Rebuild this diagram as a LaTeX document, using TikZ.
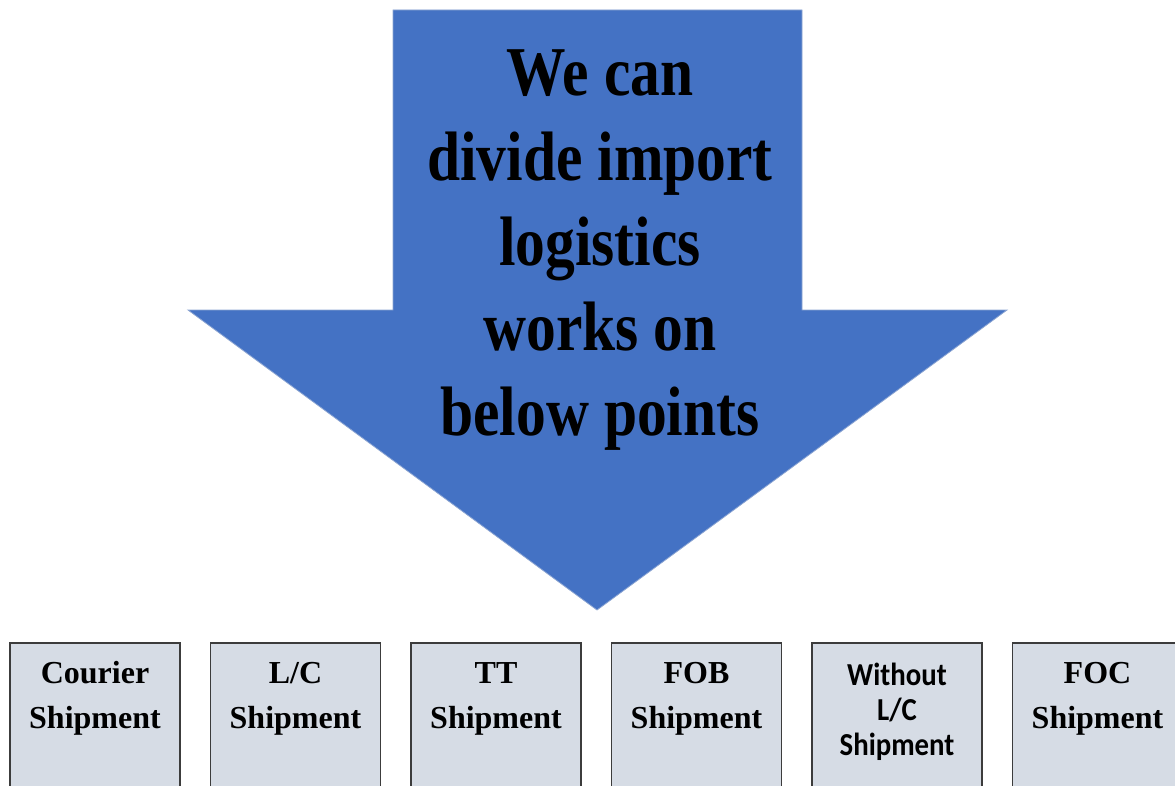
\documentclass[tikz,border=0pt]{standalone}
\usepackage{fontspec}
\setmainfont{Liberation Serif}
\newfontfamily\narrowserif[FakeStretch=0.85]{Liberation Serif}
\newfontfamily\calib[FakeStretch=0.9]{Carlito}
\usepackage{tikz}
\usetikzlibrary{positioning}

\definecolor{arrowblue}{RGB}{68,114,196}
\definecolor{arrowedge}{RGB}{140,165,210}
\definecolor{boxfill}{RGB}{214,220,229}
\definecolor{boxedge}{RGB}{60,60,60}

\tikzset{
    shipbox/.style={draw=boxedge, line width=1.5pt, fill=boxfill, minimum width=170pt, minimum height=170pt, inner sep=0pt, anchor=north},
    shiptext/.style={align=center, inner sep=0pt, anchor=base, font=\fontsize{32}{45}\selectfont\bfseries},
    calibtext/.style={align=center, inner sep=0pt, anchor=base, font=\calib\fontsize{32}{35}\selectfont\bfseries},
}

\begin{document}
\begin{tikzpicture}[x=1pt, y=-1pt, node distance=29pt]
        \useasboundingbox (0,0) rectangle (1175,786);

        % big arrow
        \draw[fill=arrowblue, draw=arrowedge, line width=0.8pt]
            (393,10) -- (802,10) -- (802,310) -- (1007,310) -- (597,610)
            -- (188,310) -- (393,310) -- cycle;
        % base sits on the last line
        \node[align=center, inner sep=0pt, anchor=base,
              font=\narrowserif\fontsize{70}{85}\selectfont\bfseries] (msg) at (600,435)
            {We can\\divide import\\logistics\\works on\\below points};

        % shipment boxes
        \node[shipbox]                    (courier) at (95,642) {};
        \node[shipbox, right=of courier]  (lc)      {};
        \node[shipbox, right=of lc]       (tt)      {};
        \node[shipbox, right=of tt]       (fob)     {};
        \node[shipbox, right=of fob]      (nolc)    {};
        \node[shipbox, right=of nolc]     (foc)     {};

        \node[shiptext]  (courierlbl) at ([yshift=-86pt]courier.north) {Courier\\Shipment};
        \node[shiptext]  (lclbl)      at ([yshift=-86pt]lc.north)      {L/C\\Shipment};
        \node[shiptext]  (ttlbl)      at ([yshift=-86pt]tt.north)      {TT\\Shipment};
        \node[shiptext]  (foblbl)     at ([yshift=-86pt]fob.north)     {FOB\\Shipment};
        \node[calibtext] (nolclbl)    at ([yshift=-113pt]nolc.north)   {Without\\L/C\\Shipment};
        \node[shiptext]  (foclbl)     at ([yshift=-86pt]foc.north)     {FOC\\Shipment};
\end{tikzpicture}
\end{document}
